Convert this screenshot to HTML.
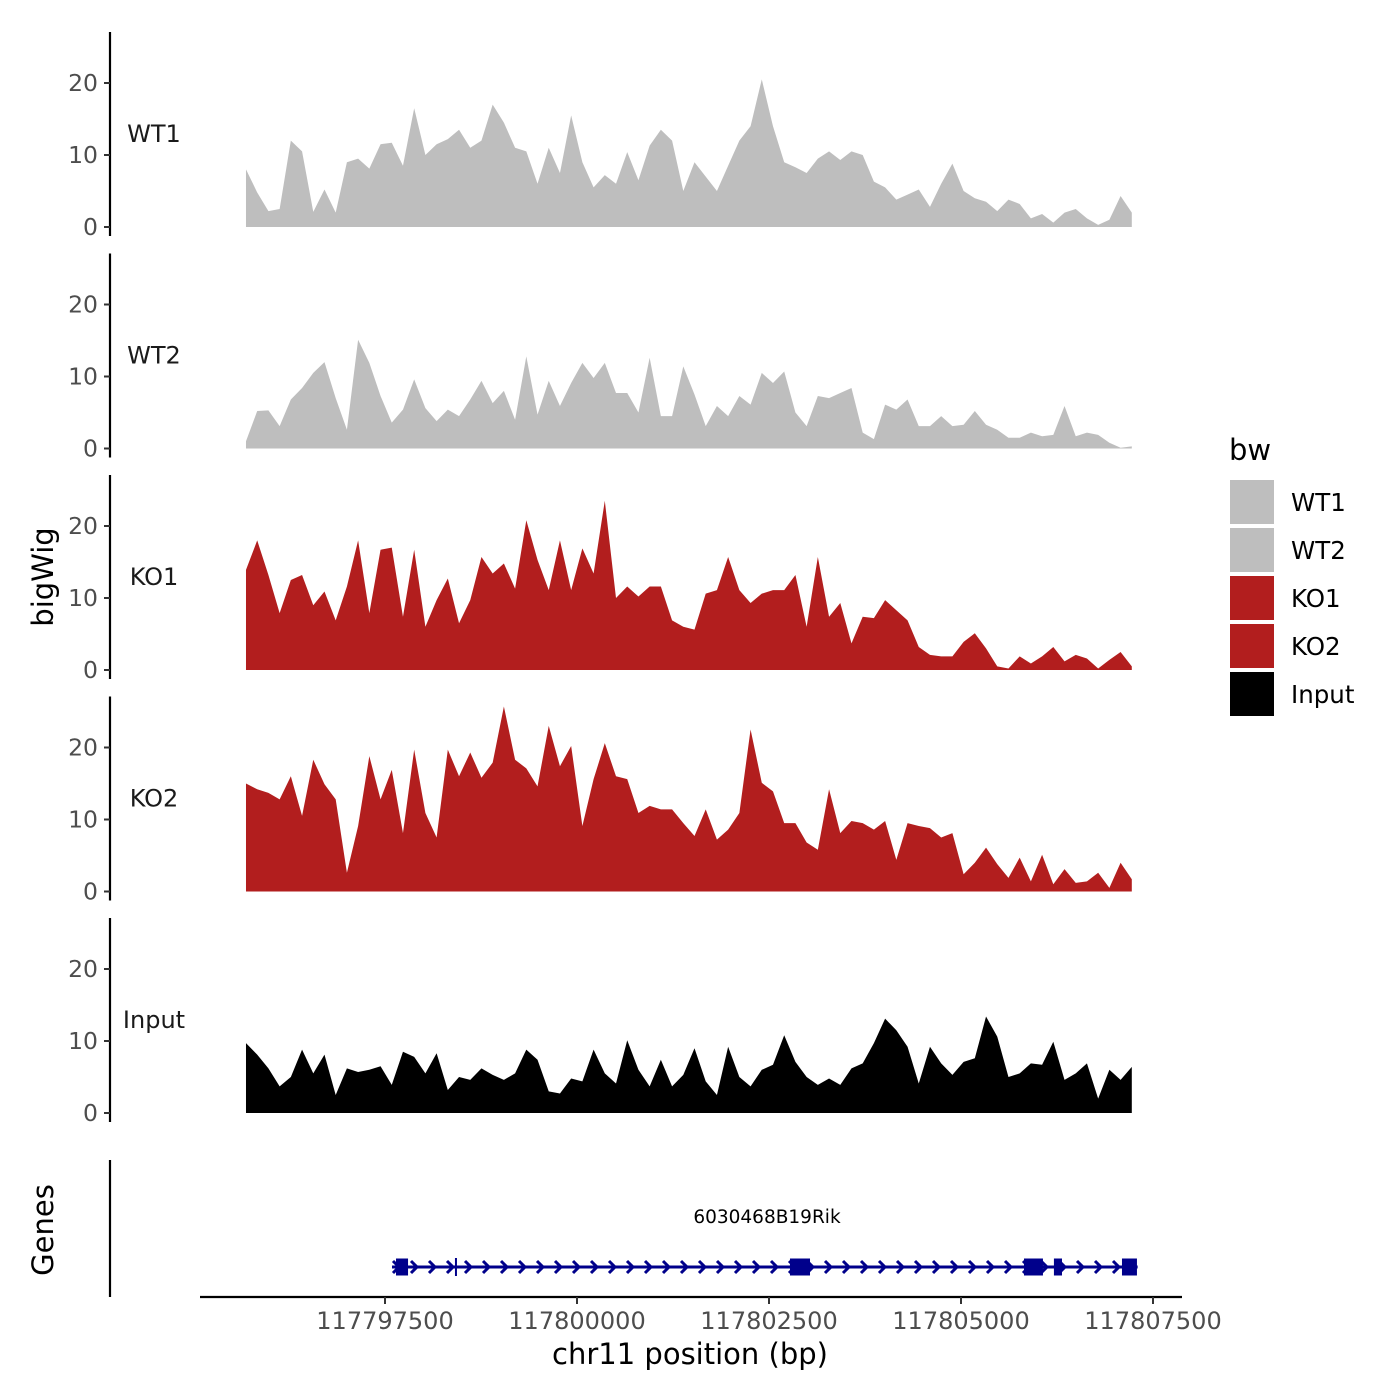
<!DOCTYPE html>
<html><head><meta charset="utf-8"><style>
html,body{margin:0;padding:0;background:#fff;}
svg{display:block;font-family:"DejaVu Sans","Liberation Sans",sans-serif;}
</style></head><body>
<svg id="chart" width="1400" height="1400" viewBox="0 0 1400 1400" xmlns="http://www.w3.org/2000/svg">
<rect width="1400" height="1400" fill="#fff"/>
<defs><clipPath id="plotclip"><rect x="200" y="0" width="934" height="1400"/></clipPath></defs>
<g id="tracks" clip-path="url(#plotclip)"></g>
<g id="axes"></g>
<g id="genes"></g>
<text x="53" y="577" transform="rotate(-90 53 577)" text-anchor="middle" font-size="29" fill="#000">bigWig</text>
<text x="53" y="1230" transform="rotate(-90 53 1230)" text-anchor="middle" font-size="29" fill="#000">Genes</text>
<text x="690" y="1364" text-anchor="middle" font-size="29" fill="#000">chr11 position (bp)</text>
<g id="legend">
<text x="1229" y="460" font-size="29" fill="#000">bw</text>
</g>
</svg>
<script>
const trackNames = ["WT1","WT2","KO1","KO2","Input"];
const binStart = 117795690;
const binSize = 146;
const wt1 = [8,4.8,2.2,2.5,12,10.5,2.1,5.2,2,9,9.5,8.1,11.5,11.7,8.5,16.5,10,11.5,12.2,13.5,11,12,17,14.5,11,10.5,6,11,7.5,15.5,9,5.5,7.2,6,10.4,6.5,11.3,13.5,12,5,9,7,5,8.5,12,14,20.5,14,9,8.3,7.5,9.5,10.5,9.3,10.5,10,6.3,5.5,3.8,4.5,5.2,2.8,6,8.8,5,4,3.5,2.2,3.8,3.2,1.2,1.8,0.6,2,2.5,1.2,0.3,1,4.3,2];
const wt2 = [1,5.2,5.3,3.1,6.8,8.4,10.5,12,7,2.6,15.1,11.9,7.3,3.6,5.4,9.6,5.6,3.8,5.4,4.5,6.8,9.4,6.3,8,4,12.8,4.7,9.4,5.9,9.1,11.9,9.8,11.9,7.7,7.7,5,12.6,4.5,4.5,11.4,7.5,3.1,5.9,4.5,7.3,6.1,10.5,9.1,10.7,5,3.1,7.3,7,7.7,8.4,2.2,1.3,6.1,5.4,6.8,3.1,3.1,4.5,3.1,3.3,5.2,3.3,2.6,1.5,1.5,2.2,1.7,1.9,5.9,1.7,2.2,1.9,0.8,0.1,0.3];
const ko1 = [13.9,18,13.2,7.9,12.5,13.2,9,10.9,6.9,11.6,18,7.9,16.7,17,7.4,16.7,6,9.7,12.7,6.5,9.7,15.7,13.4,14.8,11.3,20.8,15.3,11.1,18,11.1,16.9,13.4,23.5,10,11.6,10.2,11.6,11.6,6.9,6,5.6,10.6,11.1,15.7,11.1,9.3,10.6,11.1,11.1,13.2,6,15.7,7.4,9.3,3.7,7.4,7.2,9.7,8.3,6.9,3.2,2.1,1.9,1.9,3.9,5.1,3,0.5,0.2,1.9,0.9,1.9,3.2,1.2,2.1,1.6,0.2,1.4,2.5,0.5];
const ko2 = [15,14.2,13.7,12.8,16,10.5,18.3,14.9,12.8,2.6,9.1,18.8,12.8,16.9,8.1,19.7,10.9,7.5,19.7,16,19.3,15.8,17.9,25.7,18.3,17.1,14.6,23,17.4,20.2,9.1,15.6,20.6,16,15.6,10.9,11.9,11.4,11.4,9.5,7.7,11.4,7.2,8.6,10.9,22.5,15.1,13.9,9.5,9.5,6.8,5.8,14.2,8.1,9.8,9.5,8.6,9.8,4.4,9.5,9.1,8.8,7.5,8.1,2.4,4,6.1,3.8,1.9,4.7,1.4,5.1,1,3.1,1.2,1.4,2.6,0.5,4,1.7];
const input = [9.7,8.1,6.2,3.7,5,8.8,5.5,8.1,2.5,6.2,5.7,6,6.5,3.9,8.5,7.8,5.5,8.3,3.2,5,4.6,6.2,5.3,4.6,5.5,8.8,7.4,3,2.7,4.8,4.4,8.8,5.5,4.1,10.1,6,3.7,7.4,3.7,5.3,9,4.4,2.5,9.2,5,3.7,6,6.7,10.8,7.1,5,3.9,4.8,3.9,6.2,6.9,9.7,13.1,11.5,9.2,4.1,9.2,6.9,5.3,7.1,7.6,13.4,10.6,5,5.5,6.9,6.7,9.9,4.6,5.5,6.9,2,6,4.6,6.4];
const seriesList = [wt1,wt2,ko1,ko2,input];
const trackColors = ["#bebebe","#bebebe","#b21e1e","#b21e1e","#000000"];
const yTicks = [0,10,20];
const xTicks = [117797500,117800000,117802500,117805000,117807500];
const xTickLabels = ["117797500","117800000","117802500","117805000","117807500"];
const geneName = "6030468B19Rik";
const geneStart = 117797591, geneEnd = 117807300;
const exonStarts = [117797643,117802773,117805820,117806210,117807096];
const exonEnds = [117797800,117803034,117806067,117806315,117807291];
const intronMarks = [117798424];

const NS="http://www.w3.org/2000/svg";
function mk(tag, attrs, parent){const e=document.createElementNS(NS,tag);for(const k in attrs)e.setAttribute(k,attrs[k]);parent.appendChild(e);return e;}
const xScale = bp => 385 + (bp-117797500)*0.0768;
const zeroY = k => 227 + k*221.5;
const yScale = (k,v) => zeroY(k) - v*7.2;

const tracks=document.getElementById('tracks'), axes=document.getElementById('axes');
seriesList.forEach((vals,k)=>{
  let d = "M"+xScale(binStart)+","+zeroY(k);
  vals.forEach((v,i)=>{ d += " L"+xScale(binStart+i*binSize).toFixed(2)+","+yScale(k,v).toFixed(2); });
  d += " L"+xScale(binStart+(vals.length-1)*binSize).toFixed(2)+","+zeroY(k)+" Z";
  const p = mk('path',{d:d,fill:trackColors[k]},tracks);
  
  
  const ax = mk('line',{x1:110,x2:110,y1:zeroY(k)-195,y2:zeroY(k)+9,stroke:"#000","stroke-width":2.2},axes);
  
  
  yTicks.forEach(t=>{
    const tk = mk('line',{x1:104,x2:110,y1:yScale(k,t),y2:yScale(k,t),stroke:"#333","stroke-width":2},axes);
    
    
    const tl = mk('text',{x:98,y:yScale(k,t)+8,"text-anchor":"end","font-size":23.5,fill:"#4d4d4d"},axes);
    tl.textContent=t;
    
    
  });
  const lab = mk('text',{x:154,y:zeroY(k)-85,"text-anchor":"middle","font-size":24,fill:"#1a1a1a"},axes);
  lab.textContent=trackNames[k];
  
  
});

const g=document.getElementById('genes');
const gy=1267;
let l=mk('line',{x1:110,x2:110,y1:1160,y2:1297,stroke:"#000","stroke-width":2.2},g);


l=mk('line',{x1:200,x2:1182,y1:1297,y2:1297,stroke:"#000","stroke-width":2.2},g);


xTicks.forEach((t,i)=>{
  const tk=mk('line',{x1:xScale(t),x2:xScale(t),y1:1297,y2:1304,stroke:"#333","stroke-width":2},g);
  
  
  const tl=mk('text',{x:xScale(t),y:1329,"text-anchor":"middle","font-size":24,fill:"#4d4d4d"},g);
  tl.textContent=xTickLabels[i];
  
  
});
l=mk('line',{x1:xScale(geneStart),x2:xScale(geneEnd),y1:gy,y2:gy,stroke:"#00008b","stroke-width":3},g);


for(let x=xScale(geneStart)+4; x<xScale(geneEnd)-4; x+=18){
  const c=mk('path',{d:`M${x-3},${gy-6} L${x+3},${gy} L${x-3},${gy+6}`,fill:"none",stroke:"#00008b","stroke-width":3},g);
  
  
}
intronMarks.forEach(m=>{
  const t=mk('line',{x1:xScale(m),x2:xScale(m),y1:gy-9,y2:gy+9,stroke:"#00008b","stroke-width":2},g);
  
  
});
exonStarts.forEach((s,i)=>{
  const r=mk('rect',{x:xScale(s),y:gy-8.5,width:xScale(exonEnds[i])-xScale(s),height:17,fill:"#00008b"},g);
  
  
});
const gl=mk('text',{x:767,y:1223,"text-anchor":"middle","font-size":18.5,fill:"#000"},g);
gl.textContent=geneName;



const lg=document.getElementById('legend');
trackNames.forEach((n,i)=>{
  const y=480+i*48;
  const r=mk('rect',{x:1230,y:y,width:44,height:44,fill:trackColors[i]},lg);
  
  
  const t=mk('text',{x:1291,y:y+31,"font-size":24.5,fill:"#000"},lg);
  t.textContent=n;
  
  
});
</script>
</body></html>
